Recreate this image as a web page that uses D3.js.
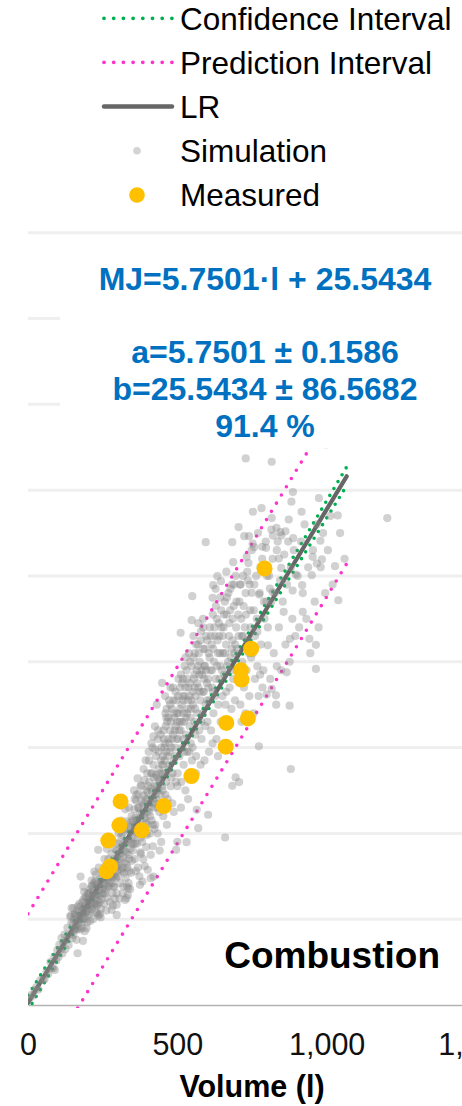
<!DOCTYPE html>
<html>
<head>
<meta charset="utf-8">
<script src="https://cdn.jsdelivr.net/npm/d3@7"></script>
<style>
html,body{margin:0;padding:0;background:#fff;overflow:hidden;}
svg{display:block;font-family:"Liberation Sans",Arial,sans-serif;}
</style>
</head>
<body>
<svg id="chart" width="462" height="1106"></svg>
<script>
// ---------- DATA ----------
const xTickValues = [0, 500, 1000, 1500];
const xTickLabels = ["0", "500", "1,000", "1,500"];
const yGridValues = [1000, 2000, 3000, 4000, 5000, 6000, 7000, 8000, 9000];

const legendLabels = ["Confidence Interval", "Prediction Interval", "LR", "Simulation", "Measured"];
const formulaLines = ["MJ=5.7501·l + 25.5434", "", "a=5.7501 ± 0.1586", "b=25.5434 ± 86.5682", "91.4 %"];
const panelTitle = "Combustion";
const xAxisTitle = "Volume (l)";

// regression line
const lrX = [0, 1067];
const lrY = [25.5, 6161];
// confidence interval
const ciX = [0, 150, 300, 450, 600, 750, 900, 1067];
const ciUpper = [113, 956, 1806, 2662, 3531, 4406, 5288, 6270];
const ciLower = [-62, 820, 1696, 2564, 3421, 4270, 5114, 6052];
// prediction interval
const piX = [0, 535, 1070];
const piUpper = [1062, 4142, 7218];
const piLower = [-993, 2084, 5160];

// measured points
const measL  = [792, 747, 713, 715, 664, 736, 662, 547, 310, 455, 306, 381, 269, 275, 263];
const measMJ = [5087, 4153, 3900, 3792, 3287, 3340, 3010, 2668, 2372, 2318, 2094, 2036, 1916, 1614, 1558];

// simulation points [volume, MJ]
const simPoints = [
[729,6370],[816,6331],[998,6530],[1203,5674],[887,5977],[882,5865],[974,5907],[753,5748],[782,5790],[916,5748],[1037,5705],[873,5658],[816,5674],[705,5569],[724,5464],[740,5464],[815,5540],[832,5560],[845,5510],[862,5520],[820,5470],[848,5470],[888,5440],[595,5394],[684,5394],[979,5410],[784,5340],[797,5328],[757,5335],[833,5300],[752,5378],[732,5223],[840,5203],[953,5223],[967,5145],[984,5192],[1028,5114],[687,5160],[734,5048],[848,5094],[897,5017],[950,5009],[634,4997],[646,4939],[620,4892],[712,4900],[918,4892],[550,4764],[618,4745],[749,4803],[774,4783],[810,4853],[819,4810],[886,4830],[1039,4717],[920,4582],[856,4582],[964,4197],[964,3917],[877,4267],[942,4267],[876,3488],[830,3609],[773,3014],[803,4192],[511,4337],[548,4484],[449,3753],[420,3130],[425,3247],[431,3500],[866,3877],[833,3947],[768,3947],[777,3850],[799,3617],[816,3683],[880,2750],[660,1952],[695,2652],[707,2598],[684,2555],[603,2217],[570,2061],[565,2275],[531,1898],[500,1902],[496,1808],[411,1478],[401,1575],[420,1497],[383,1439],[375,1400],[325,1225],[297,1050],[332,1380],[336,1361],[240,1058],[176,1497],[185,1380],[166,603],[184,747],[144,1042],[152,1128],[90,408],[222,1555],[235,1808],[196,895],[330,1245],[280,1108],[297,1167],[232,1070],[85,428],[51,292],[23,175],[146,1128],[141,1030],[157,1050],
[5,70],[12,120],[18,110],[28,210],[35,180],[42,290],[55,300],[62,390],[68,360],[75,500],[80,430],[88,560],[95,520],[98,640],
[102,560],[105,700],[108,640],[112,780],[115,600],[118,720],[122,820],[125,650],[128,760],[132,900],[136,700],[140,820],[145,960],[148,780],
[152,820],[154,1000],[157,880],[160,960],[162,760],[165,1100],[168,900],[170,1020],[172,1180],[175,880],[177,1060],[180,960],[182,1200],[185,1000],[187,1120],[190,860],[192,1260],[194,1080],[196,1160],[198,960],[199,1300],[188,1320],
[202,1050],[204,1300],[206,1180],[208,980],[210,1240],[212,1380],[214,1120],[216,1260],[218,1000],[220,1340],[222,1180],[224,1440],[226,1080],[228,1280],[230,1160],[232,1400],[234,1220],[236,1040],[238,1340],[240,1200],[242,1480],[244,1120],[246,1300],[248,1560],[243,1020],[237,1600],[227,1520],[213,1450],
[251,1300],[253,1500],[255,1180],[257,1420],[259,1620],[261,1340],[263,1560],[265,1250],[267,1460],[269,1700],[271,1380],[273,1580],[275,1200],[277,1500],[279,1760],[281,1420],[283,1300],[285,1640],[287,1520],[289,1380],[291,1820],[293,1600],[295,1480],[297,1300],[299,1700],[256,1700],[264,1820],[272,1880],[284,1160],[290,1240],[262,1100],[278,1900],
[301,1500],[303,1760],[305,1640],[307,1900],[309,1420],[311,1700],[313,1980],[315,1560],[317,1820],[319,1380],[321,2060],[323,1660],[325,1900],[327,1480],[329,1780],[331,2140],[333,1600],[335,1900],[337,1420],[339,1700],[341,2020],[343,1820],[345,1540],[347,2200],[349,1960],[304,2000],[312,2150],[318,1300],[326,2280],[334,1280],[342,1350],[348,1680],[306,1240],[322,1540],[338,2300],[344,2080],
[351,1800],[352,2100],[354,1950],[356,2280],[358,1700],[360,2040],[362,2380],[364,1880],[366,2160],[368,1600],[370,2460],[372,2000],[374,2240],[376,1780],[378,2100],[380,2560],[382,1900],[384,2320],[386,1700],[388,2180],[390,2620],[392,2000],[394,2400],[396,1840],[398,2260],[399,2700],[355,2500],[361,1560],[367,2640],[373,1500],[379,2380],[385,2060],[391,1620],[397,2500],[357,2050],[363,2150],[371,2300],[377,1950],[387,2440],[393,2180],
[401,2100],[402,2400],[404,2250],[406,2600],[408,2000],[410,2350],[412,2700],[414,2150],[416,2480],[418,1850],[420,2800],[422,2300],[424,2550],[426,2100],[428,2900],[430,2400],[432,2650],[434,2000],[436,2500],[438,2950],[440,2250],[442,2700],[444,2450],[446,1900],[448,2800],[449,2550],[405,2850],[411,1750],[417,3000],[423,2050],[429,2680],[435,3100],[441,1800],[447,3000],[403,2550],[409,2200],[415,2700],[427,2450],[433,2300],[439,2620],
[451,2500],[452,2900],[454,3200],[456,2700],[458,3050],[460,3400],[462,2600],[464,2950],[466,3300],[468,2400],[470,3100],[472,3550],[474,2800],[476,3200],[478,2550],[480,3000],[482,3450],[484,2700],[486,3150],[488,2250],[490,3350],[492,2900],[494,3650],[496,2600],[498,3100],[499,3400],[453,2200],[459,3600],[465,2100],[471,2750],[477,3700],[483,2350],[489,2850],[495,3250],[457,3000],[463,3350],[475,2950],[487,3550],
[501,2700],[503,3100],[505,3400],[507,2900],[509,3700],[511,3200],[513,2600],[515,3500],[517,3000],[519,3800],[521,2800],[523,3300],[525,3600],[527,2500],[529,3150],[531,3900],[533,2950],[535,3450],[537,3700],[539,2700],[541,3250],[543,4000],[545,3050],[547,3550],[549,2850],[504,3800],[512,2300],[520,3550],[528,4050],[536,2400],[544,3350],[508,3300],[516,3750],[524,2950],[532,3400],[540,3600],
[551,3000],[553,3500],[555,3800],[557,3300],[559,4100],[561,3600],[563,2900],[565,3900],[567,3400],[569,4200],[571,3700],[573,3200],[575,4000],[577,3550],[579,4350],[581,3100],[583,3850],[585,3400],[587,4150],[589,3650],[591,2850],[593,3950],[595,3500],[597,4300],[599,3750],[554,4300],[562,2700],[570,4450],[578,2800],[586,4500],[594,3250],[558,3700],[574,3850],[590,3950],
[601,3300],[603,3800],[605,4100],[607,3550],[609,4400],[611,3900],[613,3200],[615,4200],[617,3700],[619,4550],[621,3400],[623,4000],[625,4300],[627,3600],[629,4650],[631,3100],[633,3950],[635,4250],[637,3500],[639,4450],[641,3800],[643,4100],[645,3300],[647,4600],[649,3900],[606,2950],[618,3050],[628,4850],[636,2900],[644,4750],
[651,3600],[653,4100],[655,4400],[657,3850],[659,4700],[661,3500],[663,4200],[665,4550],[667,3950],[669,3300],[671,4800],[673,4300],[675,3700],[677,4600],[679,4050],[681,3450],[683,4900],[685,4250],[687,3800],[689,4650],[691,4100],[693,3550],[695,5000],[697,4400],[699,3900],[664,5050],
[702,3800],[705,4300],[708,4700],[711,3500],[714,4500],[717,4000],[720,5000],[723,3700],[726,4400],[729,4800],[732,3900],[735,4250],[738,5150],[741,3600],[744,4600],[747,4050],[749,5300],[715,3300],[728,3400],[742,4900],
[752,4100],[756,4600],[760,3800],[764,5000],[768,4350],[772,3600],[776,4800],[780,4200],[784,5200],[788,3900],[792,4500],[796,5400],[755,3400],[770,5500],[785,3700],[798,4700],
[803,4400],[807,5000],[811,3800],[815,4700],[819,5200],[823,4100],[827,4800],[831,3500],[836,5400],[840,4400],[844,4950],[848,3900],
[853,4700],[858,5250],[862,4200],[867,4900],[871,5400],[876,4000],[880,5100],[885,4500],[890,5300],[895,4300],
[903,5000],[908,4400],[914,5400],[920,4800],[926,5600],[932,4500],[938,5100],[945,4100],
[954,5300],[960,4700],[967,5600],[973,4400],[980,5100],[988,5500],[995,4800],
[1004,5300],[1012,5700],[1020,4900],[1045,5500],[1060,5200],
[151,950],[153,870],[156,1060],[159,900],[161,1040],[164,880],[167,1150],[169,960],[171,1080],[174,990],[176,1150],[179,1040],[181,900],[183,1110],[186,1230],[189,1020],[191,1150],[193,1000],[195,1240],[197,1090],[201,1230],[203,1120],[205,1300],[207,1080],[209,1350],[211,1160],[215,1390],[217,1150],[219,1290],[221,1420],[223,1250],[225,1180],[229,1420],[231,1290],[233,1170],[239,1270],[241,1380],[245,1420],[247,1230],[249,1350],[252,1560],[254,1390],[258,1300],[260,1470],[266,1380],[268,1600],[270,1500],[274,1420],[276,1650],[280,1560],[282,1480],[286,1380],[288,1700],[292,1500],[294,1640],[296,1800],[298,1560],
[300,1620],[302,1880],[308,1760],[310,1580],[314,1850],[316,2000],[320,1720],[324,1800],[328,2050],[330,1640],[332,1920],[336,1750],[340,2120],[346,1880],[350,2150],[353,1880],[359,2180],[365,2020],[369,2300],[375,2080],[381,2220],[383,2000],[389,2350],[395,2120],[400,2480],[407,2300],[413,2520],[419,2400],[421,2650],[425,2350],[431,2550],[437,2750],[443,2600],[445,2850],[450,2700],[357,2400],[363,2450],[377,2550],[387,2750],[394,2850],[404,2950],[413,3050],[426,2980],[436,3200],[444,3150],[318,1600],[338,1560],[358,1880],[378,1760],[398,1980],[418,2100],[440,2350],
[452,2800],[455,3100],[458,2850],[461,3250],[464,3450],[467,2900],[470,3350],[473,3050],[476,3500],[479,3300],[482,3100],[485,3700],[488,3400],[491,3200],[494,3000],[497,3550],[500,3300],[503,3600],[506,3200],[509,3450],[512,3850],[515,3300],[518,3600],[521,3400],[524,3950],[527,3700],[530,3350],[533,3800],[536,3550],[539,4100],[542,3750],[545,3450],[548,3950],[551,3650],[554,4050],[557,3850],[560,3450],[563,4200],[566,3750],[569,3950],[572,4100],[575,3650],[578,4250],[581,3900],[584,3650],[587,4400],[590,3800],[593,4150],[596,3900],[600,4250],[604,3700],[608,4050],[612,4300],[616,3900],[620,4150],[624,4400],[628,3800],[632,4500],[636,4100],[640,4300],[644,3950],[648,4400],[460,2450],[480,2650],[500,2550],[520,3100],[540,2950],[560,3150],[580,3300],[600,3550],[620,3650],
[652,4300],[656,4550],[660,4100],[666,4750],[670,4000],[674,4450],[678,4850],[682,4150],[686,4500],[690,4900],[694,4200],[698,4700],[704,4550],[710,4900],[716,4300],[722,4650],[730,4550],[736,4950],[746,4400],[758,4900],[766,4500],[778,5100],[790,4700],[800,5000],[664,3650],[680,3900],[700,4150],[720,4300],[740,4100],[760,4300]
];

// ---------- DRAW ----------
const svg = d3.select("#chart");
const x = d3.scaleLinear().domain([0, 1500]).range([28, 476]);
const y = d3.scaleLinear().domain([0, 9000]).range([1005, 232.7]);

const C_GREEN = "#00B050", C_PINK = "#FF33CC", C_LR = "#666666", C_SIM = "#858585", C_MEAS = "#FFC000", C_BLUE = "#0070C0";

svg.append("defs").append("clipPath").attr("id", "plotclip")
  .append("rect").attr("x", 28).attr("y", 228).attr("width", 460).attr("height", 780);

// gridlines
svg.append("g").selectAll("line").data(yGridValues).join("line")
  .attr("x1", x(0)).attr("x2", x(1500))
  .attr("y1", d => y(d)).attr("y2", d => y(d))
  .attr("stroke", "#efefef").attr("stroke-width", 3);

// x axis
const xAxis = d3.axisBottom(x).tickValues(xTickValues)
  .tickFormat((d, i) => xTickLabels[i]).tickSize(0).tickPadding(0);
const gx = svg.append("g").attr("transform", `translate(0,${y(0)})`).call(xAxis);
gx.select(".domain").attr("stroke", "#b3b3b3").attr("stroke-width", 1.5);
gx.selectAll("text").attr("y", 50).attr("dy", null)
  .attr("font-size", "30.5px").attr("fill", "#111")
  .attr("font-family", '"Liberation Sans",Arial,sans-serif');

const plot = svg.append("g").attr("clip-path", "url(#plotclip)");
const line = d3.line().x(d => x(d[0])).y(d => y(d[1]));

// CI
[ciUpper, ciLower].forEach(arr => {
  plot.append("path").datum(ciX.map((v, i) => [v, arr[i]]))
    .attr("d", line).attr("fill", "none").attr("stroke", C_GREEN)
    .attr("stroke-width", 3.6).attr("stroke-linecap", "round").attr("stroke-dasharray", "0 8");
});
// PI
[piUpper, piLower].forEach(arr => {
  plot.append("path").datum(piX.map((v, i) => [v, arr[i]]))
    .attr("d", line).attr("fill", "none").attr("stroke", C_PINK)
    .attr("stroke-width", 3.6).attr("stroke-linecap", "round").attr("stroke-dasharray", "0 9.6");
});
// LR
plot.append("path").datum(lrX.map((v, i) => [v, lrY[i]]))
  .attr("d", line).attr("fill", "none").attr("stroke", C_LR)
  .attr("stroke-width", 4.2).attr("stroke-linecap", "round");

// simulation
plot.append("g").selectAll("circle").data(simPoints).join("circle")
  .attr("cx", d => x(d[0])).attr("cy", d => y(d[1])).attr("r", 4.1)
  .attr("fill", C_SIM).attr("fill-opacity", 0.38);

// measured
plot.append("g").selectAll("circle").data(measL).join("circle")
  .attr("cx", d => x(d)).attr("cy", (d, i) => y(measMJ[i])).attr("r", 8)
  .attr("fill", C_MEAS);

// text box (white background)
svg.append("rect").attr("x", 60).attr("y", 240).attr("width", 420).attr("height", 208.5).attr("fill", "#fff");

const ftxt = svg.append("text").attr("text-anchor", "middle")
  .attr("font-weight", "bold").attr("font-size", "32px").attr("fill", C_BLUE);
const formulaY = [290, 326.5, 363, 400, 437];
formulaLines.forEach((t, i) => {
  if (t) ftxt.append("tspan").attr("x", 265).attr("y", formulaY[i]).text(t);
});

// panel title
svg.append("text").attr("x", 440).attr("y", 967.7).attr("text-anchor", "end")
  .attr("font-weight", "bold").attr("font-size", "37px").attr("fill", "#000").text(panelTitle);

// x axis title
svg.append("text").attr("x", 252).attr("y", 1097).attr("text-anchor", "middle")
  .attr("font-weight", "bold").attr("font-size", "30.5px").attr("fill", "#000").text(xAxisTitle);

// legend
const legY = [18.3, 62.3, 106.5, 150.8, 195];
const lg = svg.append("g");
lg.append("line").attr("x1", 104).attr("x2", 172).attr("y1", legY[0]).attr("y2", legY[0])
  .attr("stroke", C_GREEN).attr("stroke-width", 3.8).attr("stroke-linecap", "round").attr("stroke-dasharray", "0 9.7");
lg.append("line").attr("x1", 104).attr("x2", 172).attr("y1", legY[1]).attr("y2", legY[1])
  .attr("stroke", C_PINK).attr("stroke-width", 3.8).attr("stroke-linecap", "round").attr("stroke-dasharray", "0 9.7");
lg.append("line").attr("x1", 104).attr("x2", 172).attr("y1", legY[2]).attr("y2", legY[2])
  .attr("stroke", C_LR).attr("stroke-width", 4.5).attr("stroke-linecap", "round");
lg.append("circle").attr("cx", 137).attr("cy", legY[3]).attr("r", 3.8).attr("fill", "#d4d4d4");
lg.append("circle").attr("cx", 137).attr("cy", legY[4]).attr("r", 7.8).attr("fill", C_MEAS);
lg.selectAll("text").data(legendLabels).join("text")
  .attr("x", 180).attr("y", (d, i) => legY[i] + 11.2)
  .attr("font-size", "31.5px").attr("fill", "#000").text(d => d);
</script>
</body>
</html>
